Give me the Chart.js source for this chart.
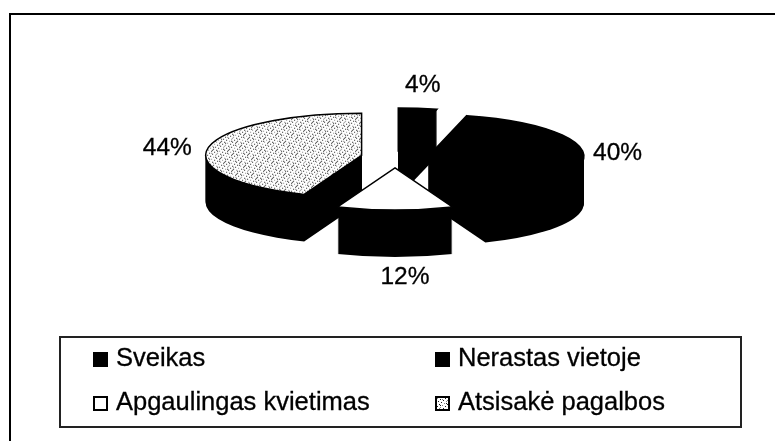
<!DOCTYPE html>
<html>
<head>
<meta charset="utf-8">
<script src="https://cdn.jsdelivr.net/npm/chart.js@4/dist/chart.umd.min.js"></script>
<style>
html, body { margin: 0; padding: 0; background: #fff; }
#wrap { position: relative; width: 775px; height: 441px; overflow: hidden; font-family: "Liberation Sans", Arial, sans-serif; color: #000; }
#frame { position: absolute; left: 9px; top: 13px; width: 780px; height: 440px; border-top: 2px solid #000; border-left: 2px solid #000; box-sizing: border-box; }
#chartPie { position: absolute; left: 0; top: 0; }
#legendBox { position: absolute; left: 59px; top: 336px; width: 683px; height: 92px; border: 2px solid #222; box-sizing: border-box; }
.item { position: absolute; font-size: 25.5px; line-height: 28px; white-space: nowrap; -webkit-text-stroke: 0.3px #000; }
.swatch { position: absolute; left: -23px; top: 9px; width: 15px; height: 15px; border: 2px solid #000; box-sizing: border-box; }
</style>
</head>
<body>
<div id="wrap">
  <div id="frame"></div>
  <canvas id="chartPie" width="775" height="441"></canvas>
  <div id="legendBox"></div>
</div>
<script>
var categories = ["Sveikas", "Nerastas vietoje", "Apgaulingas kvietimas", "Atsisakė pagalbos"];
var shares = [4, 40, 12, 44];
var percentLabels = ["4%", "40%", "12%", "44%"];

var explode = [26, 33, 40, 34];
var drawOrder = [0, 3, 1, 2];
var labelShift = [[5, -23], [34, -1], [10, 67], [-41, 1]];
var legendPos = [[55, 5], [397, 5], [55, 49], [397, 49]];

var pieX = 395, pieY = 157, squash = 0.27, depth = 47;

// grey stipple used on the big slice and its legend swatch
function stippleCanvas() {
    var c = document.createElement("canvas");
    c.width = 48; c.height = 48;
    var g = c.getContext("2d");
    g.fillStyle = "#fff";
    g.fillRect(0, 0, 48, 48);
    for (var y = 0; y < 48; y++) {
        for (var x = 0; x < 48; x++) {
            if ((x + y * 5) % 8 === 0 || (x * 3 + y) % 16 === 0) {
                g.fillStyle = (x + y) % 3 === 0 ? "#888" : "#222";
                g.fillRect(x, y, 1, 1);
            }
        }
    }
    return c;
}

var stipple = stippleCanvas();
var ctx = document.getElementById("chartPie").getContext("2d");
var stipplePattern = ctx.createPattern(stipple, "repeat");
stipplePattern.setTransform(new DOMMatrix().scale(1, 1 / squash));
var sliceColors = ["#000", "#000", "#fff", stipplePattern];

function arcProps(chart, i) {
    var a = chart.getDatasetMeta(0).data[i];
    var mid = (a.startAngle + a.endAngle) / 2;
    return { a: a, mid: mid, ox: Math.cos(mid) * explode[i], oy: Math.sin(mid) * explode[i] };
}

var squashedPie = {
    id: "squashedPie",
    // slices are pulled apart here, so the default draw is skipped
    beforeDatasetDraw: function(chart) {
        var c = chart.ctx;
        var first = chart.getDatasetMeta(0).data[0];
        c.save();
        c.translate(pieX, pieY);
        c.scale(1, squash);
        c.translate(-first.x, -first.y);
        drawOrder.forEach(function(i) {
            var p = arcProps(chart, i);
            var r = p.a.outerRadius, sx = p.a.x + p.ox, sy = p.a.y + p.oy;
            c.fillStyle = "#000";
            for (var d = depth; d >= 0; d -= 1) {
                var dy = d / squash;
                c.beginPath();
                c.moveTo(sx, sy + dy);
                c.arc(sx, sy + dy, r, p.a.startAngle, p.a.endAngle);
                c.closePath();
                c.fill();
            }
            c.save();
            c.translate(p.ox, p.oy);
            p.a.draw(c);
            c.restore();
            // outline with an even width, not squashed
            c.beginPath();
            c.moveTo(sx, sy);
            c.arc(sx, sy, r, p.a.startAngle, p.a.endAngle);
            c.closePath();
            c.save();
            c.setTransform(1, 0, 0, 1, 0, 0);
            c.lineWidth = 1.5;
            c.strokeStyle = "#000";
            c.stroke();
            c.restore();
        });
        c.restore();
        return false;
    },
    afterDatasetsDraw: function(chart) {
        var c = chart.ctx;
        c.save();
        c.fillStyle = "#000";
        c.strokeStyle = "#000";
        c.lineWidth = 0.3;
        c.font = "24.5px 'Liberation Sans', Arial, sans-serif";
        c.textAlign = "center";
        c.textBaseline = "middle";
        percentLabels.forEach(function(t, i) {
            var p = arcProps(chart, i);
            var r = p.a.outerRadius;
            var px = pieX + p.ox + Math.cos(p.mid) * r + labelShift[i][0];
            var py = pieY + (p.oy + Math.sin(p.mid) * r) * squash + labelShift[i][1];
            c.fillText(t, px, py);
            c.strokeText(t, px, py);
        });
        c.restore();
    },
    afterUpdate: function(chart) {
        var box = document.getElementById("legendBox");
        box.innerHTML = "";
        chart.data.labels.forEach(function(name, i) {
            var item = document.createElement("div");
            item.className = "item";
            item.style.left = legendPos[i][0] + "px";
            item.style.top = legendPos[i][1] + "px";
            item.textContent = name;
            var sw = document.createElement("span");
            sw.className = "swatch";
            if (i === 3) sw.style.backgroundImage = "url(" + stipple.toDataURL() + ")";
            else sw.style.background = i === 2 ? "#fff" : "#000";
            item.appendChild(sw);
            box.appendChild(item);
        });
    }
};

var myPie = new Chart(ctx, {
    type: "pie",
    data: {
        labels: categories,
        datasets: [{
            data: shares,
            backgroundColor: sliceColors,
            borderWidth: 0,
            clip: false
        }]
    },
    options: {
        responsive: false,
        animation: false,
        radius: 156,
        plugins: { legend: { display: false }, tooltip: { enabled: false } }
    },
    plugins: [squashedPie]
});
</script>
</body>
</html>
